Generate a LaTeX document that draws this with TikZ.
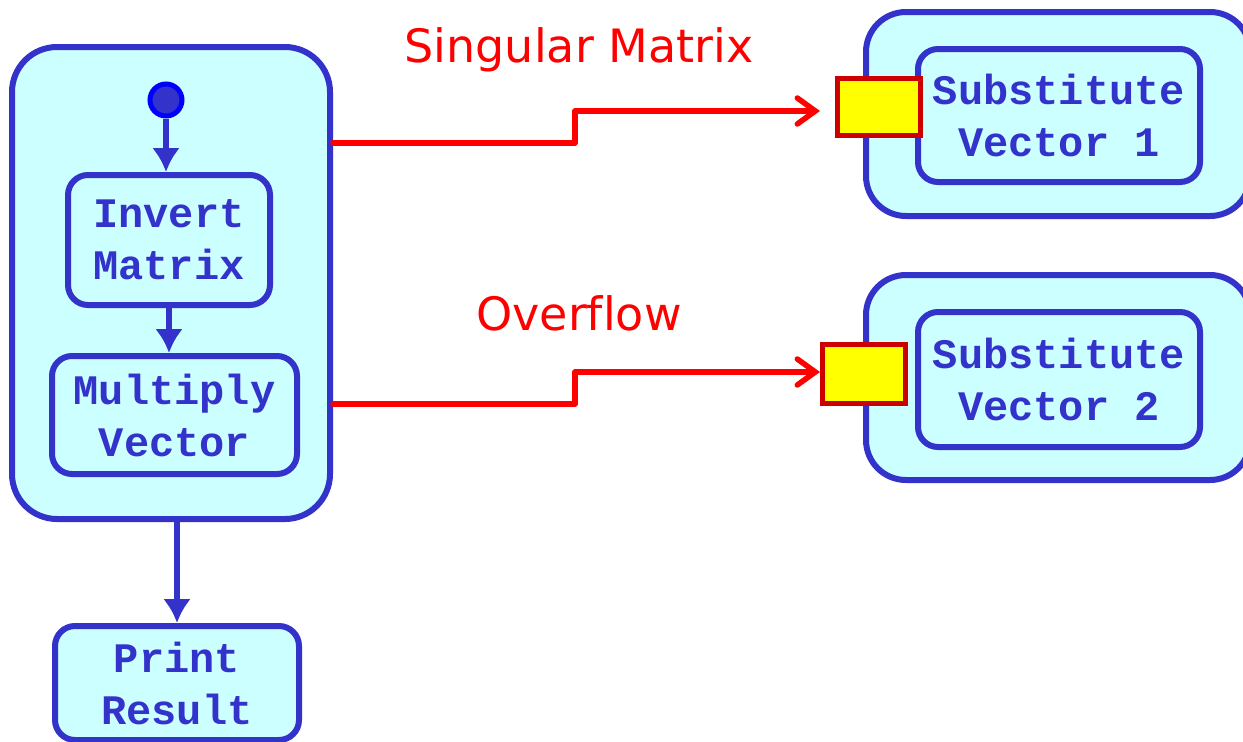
\documentclass[tikz,border=0pt]{standalone}
\usepackage{fontspec}
\setmainfont{DejaVu Sans}[Ligatures=NoCommon]
\setmonofont{Liberation Mono}
\usetikzlibrary{arrows.meta}
\definecolor{umlblue}{HTML}{3333CC}
\definecolor{umlfill}{HTML}{CCFFFF}
\definecolor{dotblue}{HTML}{0000FF}
\definecolor{pinred}{HTML}{CC0000}
\definecolor{pinfill}{HTML}{FFFF00}
\definecolor{sigred}{HTML}{FF0000}
\tikzset{
  region/.style={draw=umlblue, fill=umlfill, line width=6pt, rectangle, rounded corners=#1, inner sep=0pt},
  region/.default=20pt,
  action/.style={draw=umlblue, fill=umlfill, line width=6pt, rectangle, rounded corners=20pt, inner sep=0pt,
    align=center, text=umlblue, font=\ttfamily\bfseries\fontsize{42}{52}\selectfont},
  pin/.style={draw=pinred, fill=pinfill, line width=5pt, rectangle, inner sep=0pt},
  flow/.style={draw=umlblue, line width=6pt, -{Latex[length=24pt,width=28pt]}},
  sigflow/.style={draw=sigred, line width=5.5pt, line cap=round, line join=round, -{Straight Barb[length=18pt,width=26pt,line cap=round]}},
  siglabel/.style={text=sigred, font=\fontsize{46}{52}\selectfont, inner sep=0pt},
  initdot/.style={circle, draw=dotblue, fill=umlblue, line width=5pt, minimum size=32pt, inner sep=0pt}
}
\begin{document}
\begin{tikzpicture}[x=1pt,y=-1pt]
\useasboundingbox (0,0) rectangle (1243,742);
% main region
\node[region=45pt, minimum width=318pt, minimum height=472pt] (outer) at (171,283) {};
\node[initdot] (dot) at (166,100) {};
\node[action, minimum width=202pt, minimum height=130pt] (invert) at (169,240) {Invert\\Matrix};
\node[action, minimum width=245pt, minimum height=118pt] (multiply) at (174.5,415) {Multiply\\Vector};
\node[action, minimum width=244pt, minimum height=114pt] (print) at (177,683) {Print\\Result};
% right handlers
\node[region=40pt, minimum width=384pt, minimum height=204pt] (handler1) at (1058,114) {};
\node[action, minimum width=282pt, minimum height=133pt] (subst1) at (1059,115.5) {Substitute\\Vector 1};
\node[pin, minimum width=83pt, minimum height=57pt] (pin1) at (878.5,106.5) {};
\node[region=40pt, minimum width=384pt, minimum height=205pt] (handler2) at (1058,377.5) {};
\node[action, minimum width=282pt, minimum height=135pt] (subst2) at (1059,379.5) {Substitute\\Vector 2};
\node[pin, minimum width=83pt, minimum height=59pt] (pin2) at (863.5,373.5) {};
% labels
\node[siglabel] (lab1) at (579,50) {Singular Matrix};
\node[siglabel] (lab2) at (579,313) {Overf\kern0pt low};
% control flows
\draw[flow] (dot.south) -- (dot.south |- invert.north);
\draw[flow] (invert.south) -- (invert.south |- multiply.north);
\draw[flow] (print.north |- outer.south) -- (print.north);
% exception flows
\coordinate (e1) at (820,111);
\coordinate (e2) at (820,372);
\draw[sigflow] (outer.east |- 0,143) -- (575,143) |- (e1);
\draw[sigflow] (outer.east |- 0,404) -- (575,404) |- (e2);
\end{tikzpicture}
\end{document}
